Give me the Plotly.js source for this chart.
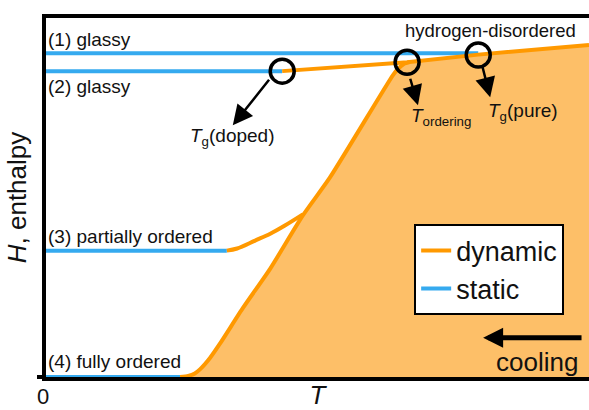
<!DOCTYPE html>
<html>
<head>
<meta charset="utf-8">
<script src="https://cdn.plot.ly/plotly-3.0.1.min.js"></script>
<style>html,body{margin:0;padding:0;background:#fff;}</style>
</head>
<body>
<div id="chart" style="width:589px;height:410px;"></div>
<script>
// ---- data (T: temperature, H: enthalpy, arbitrary units 0..10) ----
const static1T = [0, 7.96];
const static1H = [9.02, 9.02];
const static2T = [0, 4.35];
const static2H = [8.52, 8.52];
const static3T = [0, 3.33];
const static3H = [3.52, 3.52];
const static4T = [0, 2.47];
const static4H = [0, 0];

const upperT = [4.35, 6.65, 7.96, 10];
const upperH = [8.52, 8.77, 8.98, 9.25];

const steepT = [2.47, 2.62, 2.74, 2.84, 3.02, 3.20, 3.63, 4.13, 4.73, 5.23, 6.39, 6.48, 6.59, 6.70];
const steepH = [0, 0.03, 0.10, 0.22, 0.53, 0.92, 1.93, 3.02, 4.50, 5.56, 8.41, 8.58, 8.72, 8.77];

const partialT = [3.33, 3.52, 3.85, 4.13, 4.40, 4.73];
const partialH = [3.52, 3.58, 3.80, 3.99, 4.22, 4.53];

const circleT = [4.35, 6.65, 7.96];
const circleH = [8.52, 8.77, 8.97];

const labels = ['(1) glassy', '(2) glassy', '(3) partially ordered', '(4) fully ordered'];
const labelH = [9.41, 8.10, 3.91, 0.42];

const markerLabels = ['<i>T</i><sub>g</sub>(doped)', '<i>T</i><sub>ordering</sub>', '<i>T</i><sub>g</sub>(pure)'];
const markerLabelT = [3.43, 7.27, 8.78];
const markerLabelH = [6.68, 7.24, 7.37];
const arrowTailT = [4.13, 6.70, 8.03];
const arrowTailH = [8.32, 8.35, 8.69];
const arrowTipT = [3.44, 6.85, 8.18];
const arrowTipH = [7.01, 7.57, 7.79];

const xTickVals = [0];
const xTickText = ['0'];

const orange = '#ff9900';
const fillOrange = '#fdbf68';
const blue = '#35aaef';
const FONT = 'Liberation Sans, Arial, sans-serif';

// fill polygon: steep curve, upper line, right edge, bottom
const lastT = steepT[steepT.length - 1];
const fillT = steepT.concat(upperT.filter(t => t > lastT), [10, steepT[0]]);
const fillH = steepH.concat(upperH.filter((h, i) => upperT[i] > lastT), [0, 0]);

const traces = [
  {x: fillT, y: fillH, mode: 'lines', fill: 'toself', fillcolor: fillOrange,
   line: {width: 0, color: fillOrange}, showlegend: false, hoverinfo: 'skip', cliponaxis: false},
  {x: static1T, y: static1H, mode: 'lines', line: {color: blue, width: 4}, showlegend: false, cliponaxis: false},
  {x: static2T, y: static2H, mode: 'lines', line: {color: blue, width: 4}, showlegend: false, cliponaxis: false},
  {x: static3T, y: static3H, mode: 'lines', line: {color: blue, width: 4}, showlegend: false, cliponaxis: false},
  {x: upperT, y: upperH, mode: 'lines', name: 'dynamic', line: {color: orange, width: 4}, showlegend: true, cliponaxis: false},
  {x: static4T, y: static4H, mode: 'lines', name: 'static', line: {color: blue, width: 4}, showlegend: true, cliponaxis: false},
  {x: steepT, y: steepH, mode: 'lines', line: {color: orange, width: 4, shape: 'spline', smoothing: 0.6}, showlegend: false, cliponaxis: false},
  {x: partialT, y: partialH, mode: 'lines', line: {color: orange, width: 4, shape: 'spline'}, showlegend: false, cliponaxis: false},
  {x: circleT, y: circleH, mode: 'markers', marker: {symbol: 'circle-open', size: 24, color: '#000', line: {width: 3.5, color: '#000'}},
   showlegend: false, cliponaxis: false}
];

const annotations = [];
labels.forEach((t, i) => annotations.push({
  x: 0, y: labelH[i], xref: 'x', yref: 'y', text: t, showarrow: false,
  xanchor: 'left', yanchor: 'middle', xshift: 0, font: {family: FONT, size: 19, color: '#111'}
}));
annotations.push({x: 8.18, y: 9.64, xref: 'x', yref: 'y', text: 'hydrogen-disordered', showarrow: false,
  xanchor: 'center', yanchor: 'middle', font: {family: FONT, size: 18.5, color: '#111'}});
markerLabels.forEach((t, i) => annotations.push({
  x: markerLabelT[i], y: markerLabelH[i], xref: 'x', yref: 'y', text: t, showarrow: false,
  xanchor: 'center', yanchor: 'middle', font: {family: FONT, size: 19, color: '#111'}
}));
arrowTipT.forEach((t, i) => annotations.push({
  x: t, y: arrowTipH[i], ax: arrowTailT[i], ay: arrowTailH[i], xref: 'x', yref: 'y', axref: 'x', ayref: 'y',
  text: '', showarrow: true, arrowhead: 2, arrowsize: 1.6, arrowwidth: 2.5, arrowcolor: '#000'
}));
annotations.push({x: 8.05, y: 1.09, ax: 9.89, ay: 1.09, xref: 'x', yref: 'y', axref: 'x', ayref: 'y',
  text: '', showarrow: true, arrowhead: 2, arrowsize: 0.8, arrowwidth: 5, arrowcolor: '#000'});
annotations.push({x: 9.04, y: 0.42, xref: 'x', yref: 'y', text: 'cooling', showarrow: false,
  xanchor: 'center', yanchor: 'middle', font: {family: FONT, size: 26, color: '#111'}});

const layout = {
  width: 589, height: 410,
  margin: {l: 46, r: 0, t: 18, b: 33, pad: 0},
  paper_bgcolor: '#fff', plot_bgcolor: '#fff',
  font: {family: FONT, color: '#111'},
  showlegend: true,
  legend: {x: 0.678, y: 0.425, xanchor: 'left', yanchor: 'top', bgcolor: '#fff',
    bordercolor: '#000', borderwidth: 2, font: {family: FONT, size: 27, color: '#111'}, traceorder: 'normal'},
  xaxis: {range: [0, 10], showgrid: false, zeroline: false, showline: true, linewidth: 4, linecolor: '#000',
    mirror: true, layer: 'below traces', tickvals: xTickVals, ticktext: xTickText, ticks: '',
    ticklabelshift: -3, ticklabelstandoff: -3, tickfont: {family: FONT, size: 22, color: '#111'},
    title: {text: '<i>T</i>', font: {family: FONT, size: 26, color: '#111'}, standoff: 13}, fixedrange: true},
  yaxis: {range: [0, 10], showgrid: false, zeroline: false, showline: true, linewidth: 4, linecolor: '#000',
    layer: 'below traces', tickvals: [0], ticks: 'outside', ticklen: 5, tickwidth: 4, tickcolor: '#000',
    showticklabels: false,
    title: {text: '<i>H</i>, enthalpy', font: {family: FONT, size: 26, color: '#111'}, standoff: 4}, fixedrange: true},
  annotations: annotations
};

Plotly.newPlot('chart', traces, layout, {displayModeBar: false, staticPlot: true});
</script>
</body>
</html>
